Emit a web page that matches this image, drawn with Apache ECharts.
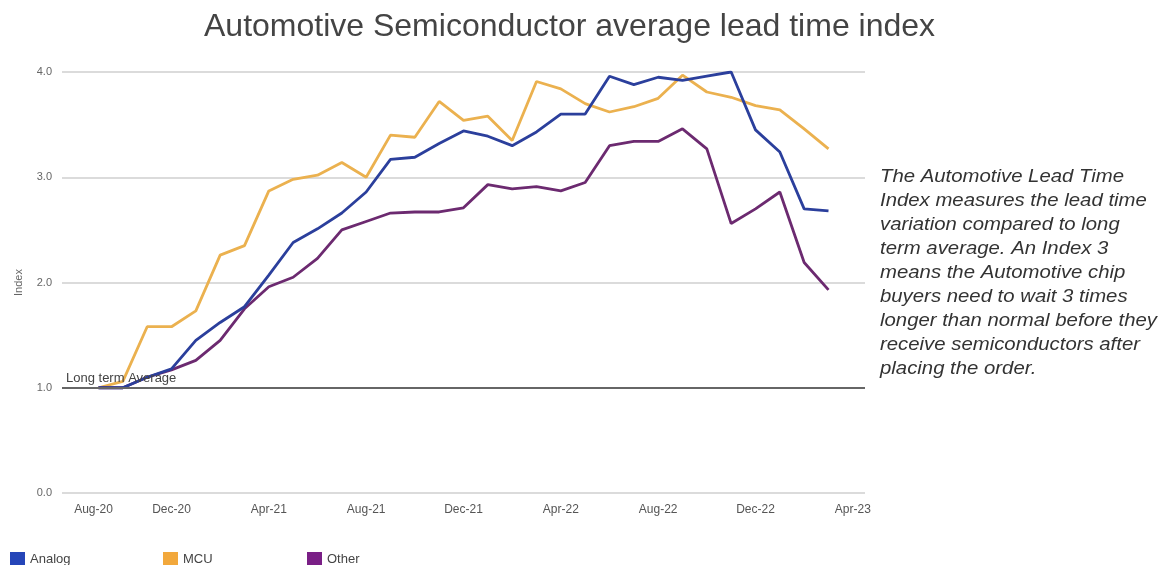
<!DOCTYPE html>
<html>
<head>
<meta charset="utf-8">
<script src="https://cdn.jsdelivr.net/npm/echarts@6/dist/echarts.min.js"></script>
<style>
  html, body { margin: 0; padding: 0; background: #fff; }
  #chart { width: 1170px; height: 565px; }
</style>
</head>
<body>
<div id="chart"></div>
<script>
// months on the axis; data runs Sep-20 .. Mar-23, ends left empty
const months = [
  'Aug-20', 'Sep-20', 'Oct-20', 'Nov-20', 'Dec-20',
  'Jan-21', 'Feb-21', 'Mar-21', 'Apr-21', 'May-21', 'Jun-21', 'Jul-21', 'Aug-21', 'Sep-21', 'Oct-21', 'Nov-21', 'Dec-21',
  'Jan-22', 'Feb-22', 'Mar-22', 'Apr-22', 'May-22', 'Jun-22', 'Jul-22', 'Aug-22', 'Sep-22', 'Oct-22', 'Nov-22', 'Dec-22',
  'Jan-23', 'Feb-23', 'Mar-23', 'Apr-23'
];

const analog = [null, 1.0, 1.0, 1.10, 1.18, 1.45, 1.62, 1.77, 2.07, 2.38, 2.51, 2.66, 2.86, 3.17, 3.19, 3.32,
  3.44, 3.39, 3.30, 3.43, 3.60, 3.60, 3.96, 3.88, 3.95, 3.92, 3.96, 4.00, 3.45, 3.24, 2.70, 2.68, null];
const mcu = [null, 1.0, 1.06, 1.58, 1.58, 1.73, 2.26, 2.35, 2.87, 2.98, 3.02, 3.14, 3.00, 3.40, 3.38, 3.72,
  3.54, 3.58, 3.35, 3.91, 3.84, 3.70, 3.62, 3.67, 3.75, 3.97, 3.81, 3.76, 3.68, 3.64, 3.46, 3.27, null];
const other = [null, 1.0, 1.0, 1.10, 1.17, 1.26, 1.45, 1.75, 1.96, 2.05, 2.23, 2.50, 2.58, 2.66, 2.67, 2.67,
  2.71, 2.93, 2.89, 2.91, 2.87, 2.95, 3.30, 3.34, 3.34, 3.46, 3.27, 2.56, 2.70, 2.86, 2.19, 1.93, null];

const longTermAverage = 1.0;

const note = [
  'The Automotive Lead Time',
  'Index measures the lead time',
  'variation compared to long',
  'term average. An Index 3',
  'means the Automotive chip',
  'buyers need to wait 3 times',
  'longer than normal before they',
  'receive semiconductors after',
  'placing the order.'
];

const C_ANALOG = '#2b3f9c';
const C_MCU = '#ebb14f';
const C_OTHER = '#6c2a70';
const FONT = '"Liberation Sans", Arial, sans-serif';

const chart = echarts.init(document.getElementById('chart'));

const legendAt = (name, left) => ({
  data: [name], left, top: 547, icon: 'rect', itemWidth: 15, itemHeight: 15, itemGap: 6,
  textStyle: { fontSize: 13, color: '#444', fontFamily: FONT }
});

chart.setOption({
  animation: false,
  title: {
    text: 'Automotive Semiconductor average lead time index',
    left: 199, top: 6,
    textStyle: { fontSize: 32, fontWeight: 'normal', color: '#444', fontFamily: FONT }
  },
  legend: [legendAt('Analog', 5), legendAt('MCU', 158), legendAt('Other', 302)],
  grid: { left: 62, right: 305, top: 72, bottom: 72 },
  xAxis: {
    type: 'category', data: months, boundaryGap: true,
    axisLine: { show: false }, axisTick: { show: false },
    axisLabel: { interval: 3, fontSize: 12, color: '#555', margin: 11, fontFamily: FONT, alignMinLabel: 'left' }
  },
  yAxis: {
    type: 'value', min: 0, max: 4, interval: 1,
    name: 'Index', nameLocation: 'middle', nameGap: 38, nameRotate: 90,
    nameTextStyle: { fontSize: 11, color: '#666', fontFamily: FONT },
    axisLabel: { formatter: v => v.toFixed(1), fontSize: 11, color: '#666', margin: 10, fontFamily: FONT },
    splitLine: { lineStyle: { color: '#cfcfcf', width: 1.5 } }
  },
  graphic: [{
    type: 'text', x: 880, y: 165, scaleX: 1.13,
    style: {
      text: note.join('\n'), fill: '#333', fontSize: 18, lineHeight: 24,
      fontStyle: 'italic', fontFamily: FONT
    }
  }],
  series: [
    {
      name: 'Analog', type: 'line', data: analog, symbol: 'none', z: 3,
      lineStyle: { width: 2.8, color: C_ANALOG }, itemStyle: { color: '#2545b8' },
      markLine: {
        silent: true, symbol: 'none',
        lineStyle: { color: '#666', width: 2, type: 'solid' },
        label: {
          position: 'insideStartTop', formatter: 'Long term Average',
          fontSize: 13, color: '#444', fontFamily: FONT, distance: [4, 3]
        },
        data: [{ yAxis: longTermAverage }]
      }
    },
    {
      name: 'MCU', type: 'line', data: mcu, symbol: 'none', z: 2,
      lineStyle: { width: 2.8, color: C_MCU }, itemStyle: { color: '#f2a83c' }
    },
    {
      name: 'Other', type: 'line', data: other, symbol: 'none', z: 2,
      lineStyle: { width: 2.8, color: C_OTHER }, itemStyle: { color: '#7a1f86' }
    }
  ]
});
</script>
</body>
</html>
